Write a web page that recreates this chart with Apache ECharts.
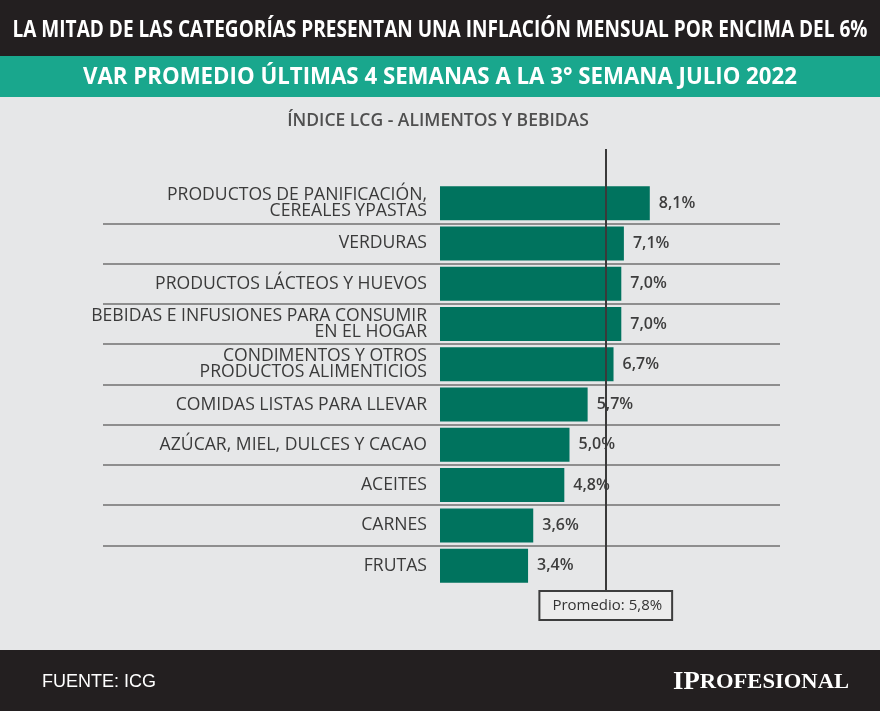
<!DOCTYPE html>
<html><head><meta charset="utf-8">
<script src="https://cdn.jsdelivr.net/npm/echarts@6/dist/echarts.min.js"></script>
<style>html,body{margin:0;padding:0;background:#e6e7e8}#c{width:880px;height:711px}</style>
</head><body><div id="c"></div>
<script>
const titleText = 'LA MITAD DE LAS CATEGORÍAS PRESENTAN UNA INFLACIÓN MENSUAL POR ENCIMA DEL 6%';
const subtitleText = 'VAR PROMEDIO ÚLTIMAS 4 SEMANAS A LA 3° SEMANA JULIO 2022';
const chartTitle = 'ÍNDICE LCG - ALIMENTOS Y BEBIDAS';
const sourceText = 'FUENTE: ICG';
const logoBig = 'IP';
const logoSmall = 'ROFESIONAL';
const categories = [
  'PRODUCTOS DE PANIFICACIÓN,\nCEREALES YPASTAS',
  'VERDURAS',
  'PRODUCTOS LÁCTEOS Y HUEVOS',
  'BEBIDAS E INFUSIONES PARA CONSUMIR\nEN EL HOGAR',
  'CONDIMENTOS Y OTROS\nPRODUCTOS ALIMENTICIOS',
  'COMIDAS LISTAS PARA LLEVAR',
  'AZÚCAR, MIEL, DULCES Y CACAO',
  'ACEITES',
  'CARNES',
  'FRUTAS'
];
const values = [8.1, 7.1, 7.0, 7.0, 6.7, 5.7, 5.0, 4.8, 3.6, 3.4];
const averageValue = 5.8;
const averageLinePosition = 6.4; // position where the reference draws the average line

const fmt = v => v.toFixed(1).replace('.', ',') + '%';

const ctx = document.createElement('canvas').getContext('2d');
function textWidth(text, font) { ctx.font = font; return ctx.measureText(text).width; }

const titleFont = 'bold 23px "Open Sans"';
const subFont = 'bold 24px "Open Sans"';
const titleScale = 855 / textWidth(titleText, titleFont);
const subScale = 714 / textWidth(subtitleText, subFont);
const bigFont = 'bold 26px "Liberation Serif"';
const smallFont = 'bold 22px "Liberation Serif"';
const logoScale = 176 / (textWidth(logoBig, bigFont) + textWidth(logoSmall, smallFont));

const chart = echarts.init(document.getElementById('c'), null, {renderer: 'canvas'});
chart.setOption({
  backgroundColor: '#e6e7e8',
  animation: false,
  grid: [
    {left: 440, top: 183, width: 259, height: 402.8},
    {left: 103, top: 183, width: 677, height: 402.8},
    {left: 440, top: 149, width: 259, height: 443}
  ],
  xAxis: [
    {type: 'value', gridIndex: 0, min: 0, max: 10, show: false},
    {type: 'value', gridIndex: 1, min: 0, max: 1, show: false},
    {type: 'value', gridIndex: 2, min: 0, max: 10, show: false}
  ],
  yAxis: [
    {type: 'category', gridIndex: 0, inverse: true, data: categories,
     axisLine: {show: false}, axisTick: {show: false}, splitLine: {show: false},
     axisLabel: {margin: 13, fontFamily: 'Open Sans', fontSize: 17.6, color: '#3a3a3a',
       lineHeight: 16, align: 'right'}},
    {type: 'value', gridIndex: 1, inverse: true, min: 0, max: 10, interval: 1,
     axisLine: {show: false}, axisTick: {show: false}, axisLabel: {show: false},
     splitLine: {show: true, showMinLine: false, showMaxLine: false,
       lineStyle: {color: '#8e8e8e', width: 2}}},
    {type: 'value', gridIndex: 2, min: 0, max: 1, show: false}
  ],
  series: [
    {type: 'bar', xAxisIndex: 0, yAxisIndex: 0, data: values, barWidth: 34,
     itemStyle: {color: '#00735e'}, z: 2,
     label: {show: true, position: 'right', distance: 9, formatter: p => fmt(p.value),
       fontFamily: 'Open Sans', fontWeight: 600, fontSize: 16, color: '#3d3d3d'}},
    {type: 'scatter', xAxisIndex: 2, yAxisIndex: 2, data: [], z: 5,
     markLine: {silent: true, symbol: ['none', 'none'], animation: false,
       lineStyle: {color: '#3a3a3a', width: 2, type: 'solid'},
       label: {show: true, position: 'start', distance: 0,
         formatter: 'Promedio: ' + fmt(averageValue),
         fontFamily: 'Open Sans', fontSize: 15, color: '#333',
         backgroundColor: '#ececec', borderColor: '#3d3d3d', borderWidth: 2,
         padding: [6, 9, 6, 12]},
       data: [{xAxis: averageLinePosition}]}}
  ],
  graphic: [
    {type: 'rect', shape: {x: 0, y: 0, width: 880, height: 56}, style: {fill: '#231f20'}, z: 0},
    {type: 'rect', shape: {x: 0, y: 56, width: 880, height: 41}, style: {fill: '#19a78d'}, z: 0},
    {type: 'rect', shape: {x: 0, y: 650, width: 880, height: 61}, style: {fill: '#231f20'}, z: 0},
    {type: 'text', x: 440, y: 30, scaleX: titleScale, z: 1,
     style: {text: titleText, font: titleFont, fill: '#ffffff', align: 'center', verticalAlign: 'middle'}},
    {type: 'text', x: 440, y: 77, scaleX: subScale, z: 1,
     style: {text: subtitleText, font: subFont, fill: '#ffffff', align: 'center', verticalAlign: 'middle'}},
    {type: 'text', x: 438, y: 121, z: 1,
     style: {text: chartTitle, font: '600 17.5px "Open Sans"', fill: '#4f4f4f', align: 'center', verticalAlign: 'middle'}},
    {type: 'text', x: 42, y: 682, z: 1,
     style: {text: sourceText, font: '18px "Liberation Sans"', fill: '#ffffff', align: 'left', verticalAlign: 'middle'}},
    {type: 'text', x: 849, y: 682, scaleX: logoScale, z: 1,
     style: {text: '{a|' + logoBig + '}{b|' + logoSmall + '}', align: 'right', verticalAlign: 'middle',
       rich: {a: {font: bigFont, fill: '#ffffff'}, b: {font: smallFont, fill: '#ffffff'}}}}
  ]
});
</script></body></html>
